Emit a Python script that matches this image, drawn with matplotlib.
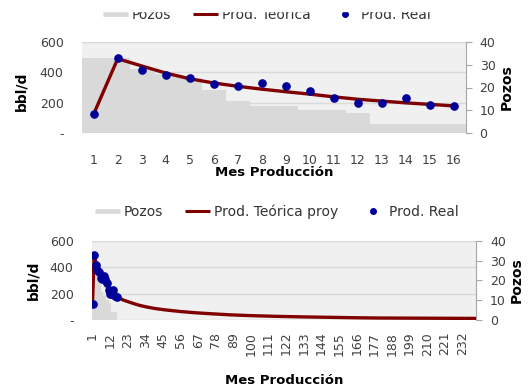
import matplotlib
matplotlib.use("Agg")
import matplotlib.pyplot as plt
from matplotlib.lines import Line2D
from matplotlib.patches import Rectangle

# monthly data, months 1-16
mes = list(range(1, 17))
pozos = [33, 33, 28, 26, 24, 19, 14, 12, 12, 10, 10, 8.5, 4, 4, 4, 4]
prod_teorica = [124, 491, 443, 396, 358, 330, 308, 289, 272, 256, 238, 222, 210, 198, 188, 178]
prod_real = [124, 494, 416, 381, 363, 321, 312, 332, 312, 279, 228, 195, 195, 228, 183, 175]

# projected curve past month 16 at sample months
proy_mes_ext = [18, 20, 25, 30, 35, 40, 46, 56, 66, 77, 87, 100, 115, 130, 150, 165, 180, 200, 220, 240]
proy_ext = [164, 152, 131, 112, 98, 87, 77, 64, 54, 46, 39, 33, 28, 24, 20, 17, 15, 14, 13, 12]
n_meses_proy = 240
ticks_proy = list(range(1, 233, 11))

BG, GRID, BAR = "#F0F0F0", "#D9D9D9", "#D9D9D9"
RED, BLUE = "#800000", "#000099"
TXT, AXC = "#404040", "#A6A6A6"

W, H = 531, 391
fig = plt.figure(figsize=(W / 100, H / 100), dpi=100)


def rect(x0, y0, x1, y1):
    return [x0 / W, 1 - y1 / H, (x1 - x0) / W, (y1 - y0) / H]


def panel(box, line_x, line_y, n, xticks, rot, xpad):
    ax = fig.add_axes(box)
    ax.set_facecolor(BG)
    ax.set_ylim(0, 600)
    ax.set_yticks([0, 200, 400, 600])
    ax.set_yticklabels(["-", "200", "400", "600"])
    ax.grid(axis="y", color=GRID, lw=1)
    ax.set_axisbelow(True)
    for s in ax.spines.values():
        s.set_visible(False)
    ax.tick_params(axis="y", length=0, pad=13, labelsize=9, labelcolor=TXT)
    ax.tick_params(axis="x", length=0, pad=xpad, labelsize=9, labelcolor=TXT)
    ax.set_xlim(0.5, n + 0.5)
    ax.set_xticks(xticks)
    ax.set_xticklabels([str(t) for t in xticks], rotation=rot)

    ax2 = ax.twinx()
    ax2.bar(mes, pozos, width=1.0, color=BAR, linewidth=0)
    ax2.set_ylim(0, 40)
    ax2.set_yticks([0, 10, 20, 30, 40])
    for k, s in ax2.spines.items():
        s.set_visible(k == "right")
    ax2.spines["right"].set_color(AXC)
    ax2.tick_params(axis="y", length=4, color=AXC, pad=6, labelsize=9, labelcolor=TXT)

    ax3 = ax.twinx()
    ax3.set_ylim(0, 600)
    ax3.axis("off")
    ax3.plot(line_x, line_y, color=RED, lw=2.4, solid_joinstyle="round")
    ax3.plot(mes, prod_real, "o", color=BLUE, ms=5.2, ls="none")
    return ax


def legend(cx, cy, lbl_line):
    handles = [Line2D([], [], color=BAR, lw=3.4, solid_capstyle="butt"),
               Line2D([], [], color=RED, lw=2.2, solid_capstyle="butt"),
               Line2D([], [], color=BLUE, marker="o", ms=4, ls="none")]
    fig.legend(handles, ["Pozos", lbl_line, "Prod. Real"], loc="center",
               bbox_to_anchor=(cx / W, 1 - cy / H), ncol=3, frameon=False,
               fontsize=10, handlelength=1.8, handletextpad=0.25, columnspacing=1.6,
               labelcolor="#333333")


# top chart: first 16 months
panel(rect(81.7, 42.3, 465.7, 132.7), mes, prod_teorica, 16, mes, 0, 15)
legend(267, 15, "Prod. Teórica")
fig.text(21.7 / W, 1 - 91 / H, "bbl/d", rotation=90, ha="center", va="center",
         fontsize=10, fontweight="bold")
fig.text(507 / W, 1 - 87 / H, "Pozos", rotation=90, ha="center", va="center",
         fontsize=10, fontweight="bold")
fig.text(274 / W, 1 - 173 / H, "Mes Producción", ha="center", va="center",
         fontsize=9.5, fontweight="bold")

# bottom chart: full projection
panel(rect(91.7, 240.7, 476, 320), mes + proy_mes_ext, prod_teorica + proy_ext,
      n_meses_proy, ticks_proy, 90, 8.5)
legend(277, 212, "Prod. Teórica proy")
fig.text(33.3 / W, 1 - 280 / H, "bbl/d", rotation=90, ha="center", va="center",
         fontsize=10, fontweight="bold")
fig.text(517 / W, 1 - 280 / H, "Pozos", rotation=90, ha="center", va="center",
         fontsize=10, fontweight="bold")
fig.text(284 / W, 1 - 381 / H, "Mes Producción", ha="center", va="center",
         fontsize=9.5, fontweight="bold")

# the source image is clipped just above the first legend
fig.add_artist(Rectangle((0, 1 - 10.5 / H), 1, 10.5 / H, transform=fig.transFigure,
                         color="white", zorder=10))

fig.savefig("out.png", dpi=100)
